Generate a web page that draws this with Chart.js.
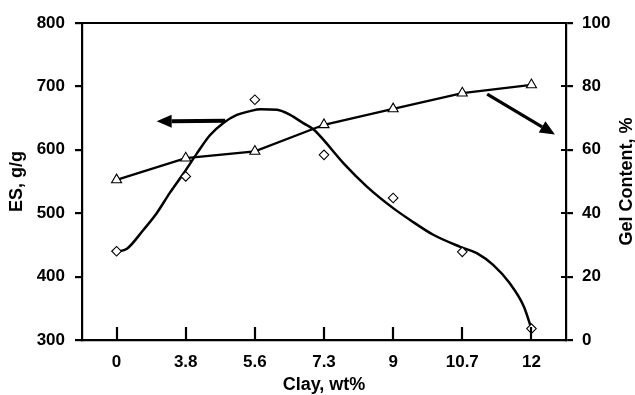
<!DOCTYPE html>
<html>
<head>
<meta charset="utf-8">
<script src="https://cdn.jsdelivr.net/npm/chart.js@4/dist/chart.umd.min.js"></script>
<style>
    html, body { margin: 0; padding: 0; background: #fff; }
    #wrap { width: 635px; height: 395px; }
</style>
</head>
<body>
<div id="wrap"><canvas id="clayChart"></canvas></div>
<script>

// clay loading categories
const clayLabels = ["0", "3.8", "5.6", "7.3", "9", "10.7", "12"];

// measured equilibrium swelling, g/g (left axis)
const esValues = [440, 558, 679, 592, 524, 439, 318];

// gel content, % (right axis)
const gelValues = [50.5, 57.4, 59.5, 67.9, 72.9, 77.9, 80.5];

// smoothed ES trend, read along the category index
const fitPos = [0, 0.15, 0.39, 0.58, 0.77, 0.97, 1.16, 1.35, 1.54, 1.74, 1.93, 2.08, 2.32, 2.51, 2.7, 2.85, 2.99, 3.28, 3.62, 4.0, 4.25, 4.58, 4.97, 5.21, 5.45, 5.69, 5.89, 6.0];
const fitValues = [439, 444, 474, 500, 532, 563, 594, 623, 642, 655, 661, 664, 663, 655, 642, 632, 616, 579, 542, 508, 489, 466, 447, 437, 418, 389, 353, 318];

// arrows pointing at the axis each curve belongs to (index, ES)
const arrowFrom = [[1.57, 646], [5.36, 688]];
const arrowTo = [[0.58, 645], [6.34, 624]];

const FONT = "'Liberation Sans', Arial, sans-serif";

function drawArrow(ctx, x1, y1, x2, y2, width, headLen, headHalf) {

    const ang = Math.atan2(y2 - y1, x2 - x1);
    const bx = x2 - Math.cos(ang) * headLen;
    const by = y2 - Math.sin(ang) * headLen;

    ctx.lineWidth = width;
    ctx.beginPath();
    ctx.moveTo(x1, y1);
    ctx.lineTo(bx, by);
    ctx.stroke();

    ctx.beginPath();
    ctx.moveTo(x2, y2);
    ctx.lineTo(bx + Math.sin(ang) * headHalf, by - Math.cos(ang) * headHalf);
    ctx.lineTo(bx - Math.sin(ang) * headHalf, by + Math.cos(ang) * headHalf);
    ctx.closePath();
    ctx.fill();
}

// frame top, inner tick marks, arrows and the right axis title
const extrasPlugin = {

    id: "extras",

    afterDraw(chart) {

        const { ctx, chartArea, scales } = chart;
        const x = scales.x;
        const y = scales.y;
        const y1 = scales.y1;

        ctx.save();
        ctx.strokeStyle = "#000";
        ctx.fillStyle = "#000";
        ctx.lineWidth = 2.2;

        ctx.beginPath();
        ctx.moveTo(chartArea.left - 1, chartArea.top);
        ctx.lineTo(chartArea.right + 1, chartArea.top);

        x.ticks.forEach(t => {
            const px = Math.round(x.getPixelForValue(t.value));
            ctx.moveTo(px, chartArea.bottom);
            ctx.lineTo(px, chartArea.bottom - 13);
        });

        y1.ticks.forEach(t => {
            const py = Math.round(y1.getPixelForValue(t.value));
            ctx.moveTo(chartArea.right, py);
            ctx.lineTo(chartArea.right - 5, py);
        });

        ctx.stroke();

        arrowFrom.forEach((a, i) => {
            drawArrow(
                ctx,
                x.getPixelForValue(a[0]), y.getPixelForValue(a[1]),
                x.getPixelForValue(arrowTo[i][0]), y.getPixelForValue(arrowTo[i][1]),
                i === 0 ? 4 : 3.2,
                15,
                6.5
            );
        });

        ctx.translate(chart.width - 8, (chartArea.top + chartArea.bottom) / 2);
        ctx.rotate(-Math.PI / 2);
        ctx.font = "bold 18px " + FONT;
        ctx.textAlign = "center";
        ctx.textBaseline = "middle";
        ctx.fillText("Gel Content, %", 0, 0);

        ctx.restore();
    }
};

const ctx = document
    .getElementById("clayChart")
    .getContext("2d");

Chart.defaults.font.family = FONT;
Chart.defaults.color = "#000";

new Chart(ctx, {

    type: "line",

    data: {

        datasets: [

            {
                label: "ES",
                data: esValues.map((v, i) => ({ x: i, y: v })),
                showLine: false,
                pointStyle: "rectRot",
                pointRadius: 4.8,
                pointBorderWidth: 1.1,
                pointBorderColor: "#000",
                pointBackgroundColor: "#fff",
                yAxisID: "y"
            },

            {
                label: "Gel content",
                data: gelValues.map((v, i) => ({ x: i, y: v })),
                borderColor: "#000",
                borderWidth: 2.3,
                tension: 0,
                pointStyle: "triangle",
                pointRadius: 5.8,
                pointBorderWidth: 1.1,
                pointBorderColor: "#000",
                pointBackgroundColor: "#fff",
                yAxisID: "y1"
            },

            {
                label: "ES trend",
                data: fitPos.map((p, i) => ({ x: p, y: fitValues[i] })),
                borderColor: "#000",
                borderWidth: 2.5,
                cubicInterpolationMode: "monotone",
                pointRadius: 0,
                yAxisID: "y"
            }

        ]

    },

    options: {

        responsive: true,
        maintainAspectRatio: false,
        animation: false,

        layout: {
            padding: { top: 23, left: 0, right: 0, bottom: 0 }
        },

        plugins: {
            legend: { display: false },
            tooltip: { enabled: false }
        },

        scales: {

            x: {
                type: "linear",
                min: -0.5,
                max: 6.5,
                afterBuildTicks: s => {
                    s.ticks = clayLabels.map((_, i) => ({ value: i }));
                },
                afterFit: s => { s.height = 55; },
                grid: { display: false, drawTicks: false },
                border: { display: true, color: "#000", width: 2.2 },
                ticks: {
                    padding: 12,
                    font: { size: 17, weight: "bold" },
                    callback: v => clayLabels[v]
                },
                title: {
                    display: true,
                    text: "Clay, wt%",
                    font: { size: 18, weight: "bold", lineHeight: 1 },
                    padding: { top: 0, bottom: 1 }
                }
            },

            y: {
                position: "left",
                min: 300,
                max: 800,
                afterFit: s => { s.width = 82; },
                grid: {
                    drawOnChartArea: false,
                    tickLength: 7,
                    color: "#000",
                    lineWidth: 2.2
                },
                border: { display: true, color: "#000", width: 2.2 },
                ticks: {
                    stepSize: 100,
                    padding: 10,
                    font: { size: 17, weight: "bold" }
                },
                title: {
                    display: true,
                    text: "ES, g/g",
                    font: { size: 18, weight: "bold", lineHeight: 1 },
                    padding: { top: 8, bottom: 0 }
                }
            },

            y1: {
                position: "right",
                min: 0,
                max: 100,
                afterFit: s => { s.width = 69; },
                grid: {
                    drawOnChartArea: false,
                    tickLength: 7,
                    color: "#000",
                    lineWidth: 2.2
                },
                border: { display: true, color: "#000", width: 2.2 },
                ticks: {
                    stepSize: 20,
                    padding: 9,
                    font: { size: 17, weight: "bold" }
                }
            }

        }

    },

    plugins: [extrasPlugin]

});

</script>
</body>
</html>
